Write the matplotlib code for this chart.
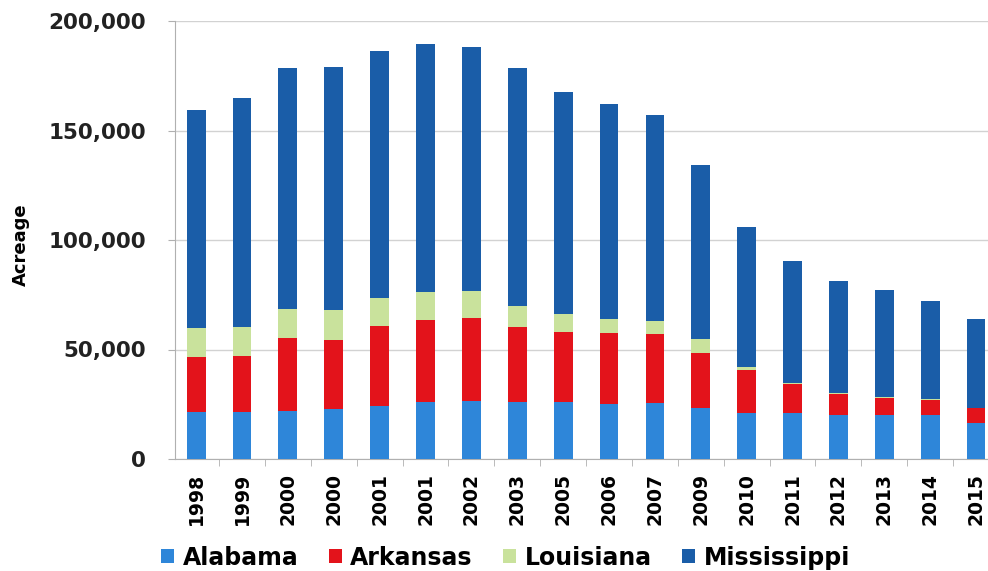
import numpy as np
import matplotlib
matplotlib.use("Agg")
import matplotlib.pyplot as plt
from matplotlib.ticker import FuncFormatter, FixedLocator

years = ["1998", "1999", "2000", "2000", "2001", "2001", "2002", "2003", "2005",
         "2006", "2007", "2009", "2010", "2011", "2012", "2013", "2014", "2015"]

alabama = [21500, 21300, 22000, 22800, 24300, 26100, 26600, 26100, 25800,
           24900, 25400, 23100, 20800, 20800, 20000, 20000, 20000, 16500]
arkansas = [25100, 25600, 33300, 31400, 36400, 37200, 37900, 34200, 32200,
            32700, 31800, 25300, 19700, 13400, 9900, 7800, 6900, 6600]
louisiana = [13400, 13400, 13300, 13700, 13000, 12900, 12000, 9400, 8400,
             6200, 5700, 6300, 1300, 300, 300, 300, 300, 300]
mississippi = [99500, 104700, 109800, 111300, 112600, 113300, 111700, 109000, 101300,
               98500, 94300, 79500, 64100, 55700, 51300, 48900, 44900, 40400]

series = [("Alabama", alabama, "#2E86D9"),
          ("Arkansas", arkansas, "#E3131B"),
          ("Louisiana", louisiana, "#C9E29C"),
          ("Mississippi", mississippi, "#1A5DA8")]

fig = plt.figure(figsize=(9.88, 5.71), dpi=100)
ax = fig.add_axes([175 / 988, 1 - 459 / 571, (988 - 175) / 988, (459 - 21) / 571])

x = np.arange(len(years))
bottom = np.zeros(len(years))
handles = []
for name, vals, color in series:
    vals = np.array(vals, dtype=float)
    b = ax.bar(x, vals, width=0.41, bottom=bottom, color=color, label=name,
               zorder=3, linewidth=0)
    handles.append(b)
    bottom += vals

ax.set_ylim(0, 200000)
ax.set_xlim(-0.46, 17.26)
ax.set_yticks([0, 50000, 100000, 150000, 200000])
ax.yaxis.set_major_formatter(FuncFormatter(lambda v, p: f"{int(v):,}"))
ax.grid(axis="y", color="#d2d2d2", linewidth=1.0, zorder=0)

ax.set_xticks(x)
ax.set_xticklabels(years, rotation=90, fontsize=13.5, fontweight="bold")
ax.xaxis.set_minor_locator(FixedLocator(np.arange(-0.5, 18, 1)))
ax.tick_params(axis="x", which="major", length=0, pad=10)
ax.tick_params(axis="x", which="minor", length=5, color="#b0b0b0")
ax.tick_params(axis="y", length=5, color="#b0b0b0", labelsize=15.5, pad=16)
for lab in ax.get_yticklabels():
    lab.set_fontweight("bold")
    lab.set_color("#222222")

for side in ["top", "right"]:
    ax.spines[side].set_visible(False)
for side in ["left", "bottom"]:
    ax.spines[side].set_color("#b0b0b0")

ax.set_ylabel("Acreage", fontsize=13, fontweight="bold")
ax.yaxis.set_label_coords(-0.178, 0.49)

fig.legend(handles=handles, labels=[s[0] for s in series], loc="lower left",
           bbox_to_anchor=(140 / 988, -0.035), ncol=4, frameon=False,
           prop={"weight": "bold", "size": 17}, handlelength=0.55, handleheight=0.55,
           handletextpad=0.35, columnspacing=1.3)

fig.savefig("out.png", dpi=100)
